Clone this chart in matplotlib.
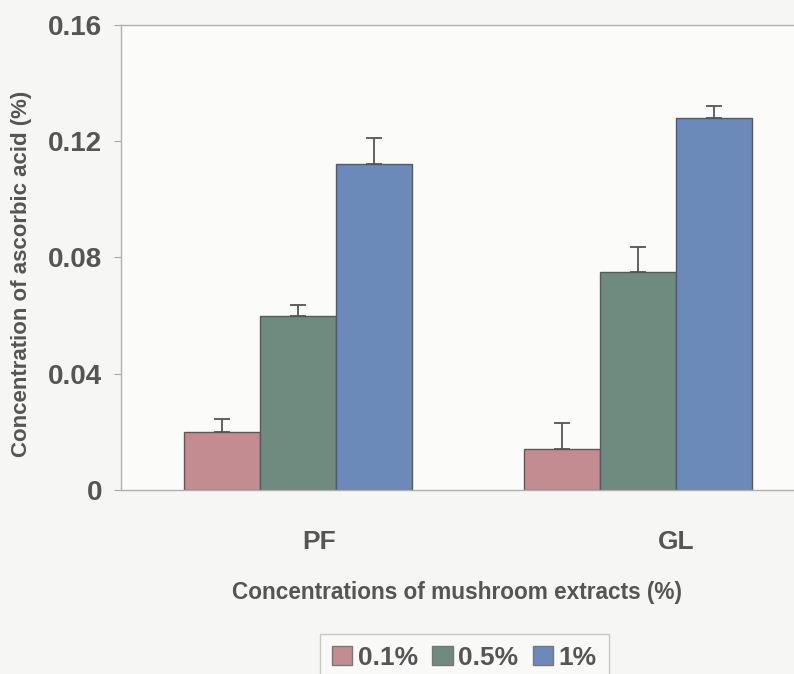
import numpy as np
import matplotlib
matplotlib.use('Agg')
import matplotlib.pyplot as plt

# ============== 数据 ==============
groups = ['PF', 'GL']
series = ['0.1%', '0.5%', '1%']
values = {
    '0.1%': [0.020, 0.014],
    '0.5%': [0.060, 0.075],
    '1%':   [0.112, 0.128],
}
errors = {
    '0.1%': [0.0045, 0.009],
    '0.5%': [0.0035, 0.0085],
    '1%':   [0.009, 0.004],
}
colors = ['#c28c90', '#6f8a7f', '#6b89b9']
yticks = [0, 0.04, 0.08, 0.12, 0.16]
ytick_labels = ['0', '0.04', '0.08', '0.12', '0.16']

plt.rcParams['font.family'] = ['Liberation Sans', 'DejaVu Sans']
TXT = '#555555'

fig = plt.figure(figsize=(7.94, 6.74), dpi=100, facecolor='#f6f6f4')
ax = fig.add_axes([0.152, 0.273, 0.848, 0.690])
ax.set_facecolor('#fbfbfa')

x = np.arange(len(groups))
width = 0.2235
for i, s in enumerate(series):
    err = np.array(errors[s])
    ax.bar(x + (i - 1) * width, values[s], width, color=colors[i],
           edgecolor='#5a5a5a', linewidth=1.0, label=s,
           yerr=[np.zeros_like(err), err],
           error_kw=dict(ecolor='#555555', elinewidth=1.3,
                         capsize=6, capthick=1.3),
           zorder=2)

ax.set_xlim(-0.521, 1.459)
ax.set_ylim(0, 0.16)
ax.set_yticks(yticks)
ax.set_yticklabels(ytick_labels, fontsize=20, fontweight='bold', color=TXT)
ax.tick_params(axis='y', direction='out', length=5, width=0.8,
               color='#aaaaaa', pad=8.5)

# 组标签在原图中略偏右
ax.set_xticks(x + np.array([0.062, 0.112]))
ax.set_xticklabels(groups, fontsize=19, fontweight='bold', color=TXT)
ax.tick_params(axis='x', length=0, pad=29)

for side in ['left', 'top', 'bottom']:
    ax.spines[side].set_color('#b0b0b0')
    ax.spines[side].set_linewidth(1.0)
ax.spines['right'].set_visible(False)

ax.set_ylabel('Concentration of ascorbic acid (%)', fontsize=16,
              fontweight='bold', color=TXT)
ax.yaxis.set_label_coords(-0.132, 0.465)
ax.set_xlabel('Concentrations of mushroom extracts (%)', fontsize=16.3,
              fontweight='bold', color=TXT)
ax.xaxis.set_label_coords(0.5, -0.196)

leg = ax.legend(loc='upper left', bbox_to_anchor=(320 / 794, 1 - 634 / 674),
                bbox_transform=fig.transFigure,
                ncol=3, frameon=True, fancybox=False,
                handlelength=0.78, handleheight=0.75, handletextpad=0.2,
                columnspacing=0.55, borderpad=0.45, borderaxespad=0,
                edgecolor='#bbbbbb', labelcolor=TXT,
                prop=dict(weight='bold', size=19))
leg.get_frame().set_facecolor('#fbfbfa')
for h in leg.legend_handles:
    h.set_edgecolor('#777777')

fig.savefig('out.png', dpi=100, facecolor=fig.get_facecolor())
